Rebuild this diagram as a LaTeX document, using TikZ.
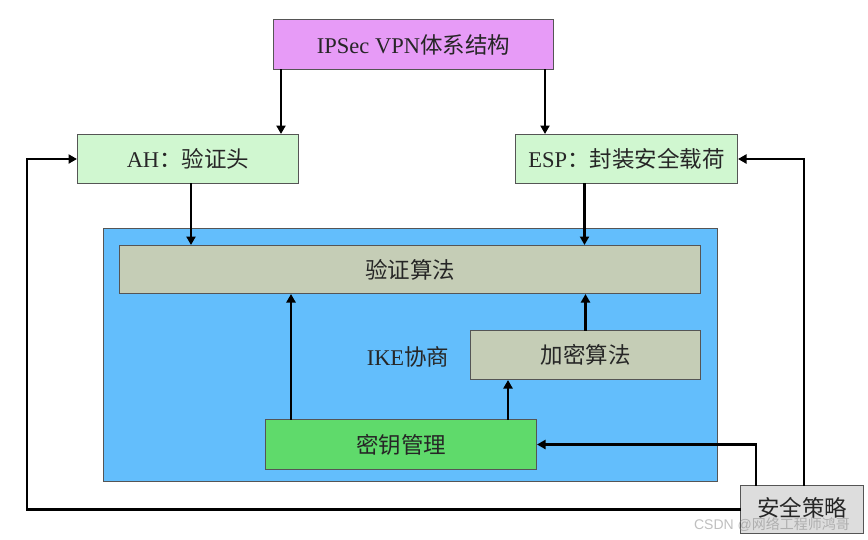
\documentclass[tikz,border=0pt]{standalone}
\usepackage{fontspec}
\setmainfont{Liberation Serif}
\newfontfamily\cjk{Noto Sans CJK SC}
\newfontfamily\wmsans{Liberation Sans}
\usetikzlibrary{arrows.meta}
\definecolor{topviolet}{HTML}{E79BF7}
\definecolor{palegreen}{HTML}{D0F7D0}
\definecolor{panelblue}{HTML}{63BEFC}
\definecolor{algogray}{HTML}{C5CDB6}
\definecolor{keygreen}{HTML}{5FDA6B}
\definecolor{policygray}{HTML}{DDDDDD}
\definecolor{edge}{HTML}{555555}
\tikzset{
  blk/.style={draw=edge, line width=1pt, anchor=north west, inner sep=0pt,
    font=\fontsize{22.5}{26}\selectfont, text=black!85},
  arr/.style={line width=2.9pt, line cap=rect, -{Triangle[length=8.5pt,width=9pt]}},
}
\begin{document}
\begin{tikzpicture}[x=1pt,y=-1pt]
\useasboundingbox (0,0) rectangle (868,539);
\fill[white] (0,0) rectangle (868,539);

% outer IKE panel
\node[draw=edge, line width=1pt, fill=panelblue, anchor=north west, minimum width=614pt, minimum height=253pt] (panel) at (103,228) {};

% boxes
\node[blk, fill=topviolet, minimum width=280pt, minimum height=50pt] (top) at (273,19)
  {IPSec VPN{\cjk 体系结构}};
\node[blk, fill=palegreen, minimum width=221pt, minimum height=49pt] (ah) at (77,134)
  {AH{\cjk ：验证头}};
\node[blk, fill=palegreen, minimum width=222pt, minimum height=49pt] (esp) at (515,134)
  {ESP{\cjk ：封装安全载荷}};
\node[blk, fill=algogray, minimum width=581pt, minimum height=48pt] (auth) at (119,245)
  {\cjk 验证算法};
\node[blk, fill=algogray, minimum width=230pt, minimum height=49pt] (enc) at (470,330)
  {\cjk 加密算法};
\node[blk, fill=keygreen, minimum width=271pt, minimum height=50pt] (key) at (265,419)
  {\cjk 密钥管理};
\node[blk, fill=policygray, minimum width=123pt, minimum height=48pt, text depth=6pt] (pol) at (740,485)
  {\cjk 安全策略};
\node[font=\fontsize{22.5}{26}\selectfont, text=black!85, inner sep=0pt] (ike) at (408,357)
  {IKE{\cjk 协商}};

% top-level split
\draw[arr] ([xshift=8pt]top.south west) -- ([xshift=8pt]top.south west |- ah.north);
\draw[arr] ([xshift=-9pt]top.south east) -- ([xshift=-9pt]top.south east |- esp.north);

% protocols to authentication algorithms
\draw[arr] ([xshift=3pt]ah.south) -- ([xshift=3pt]ah.south |- auth.north);
\draw[arr] ([xshift=-42pt]esp.south) -- ([xshift=-42pt]esp.south |- auth.north);

% key management feeds both algorithm boxes
\draw[arr] ([xshift=26pt]key.north west) -- ([xshift=26pt]key.north west |- auth.south);
\draw[arr] ([xshift=-29pt]key.north east) -- ([xshift=-29pt]key.north east |- enc.south);
\draw[arr] (enc.north) -- (enc.north |- auth.south);

% security policy feedback lines
\draw[arr] ([xshift=16pt]pol.north west) |- (key.east);
\draw[arr] ([xshift=64pt]pol.north west) |- (esp.east);
\draw[arr] (pol.west) -| ([xshift=-50pt]ah.west) -- (ah.west);

% site watermark
\node[text=gray, opacity=0.5, font=\fontsize{14}{16}\selectfont, inner sep=0pt] (wm) at (772,524)
  {{\wmsans CSDN @}{\cjk 网络工程师鸿哥}};
\end{tikzpicture}
\end{document}
